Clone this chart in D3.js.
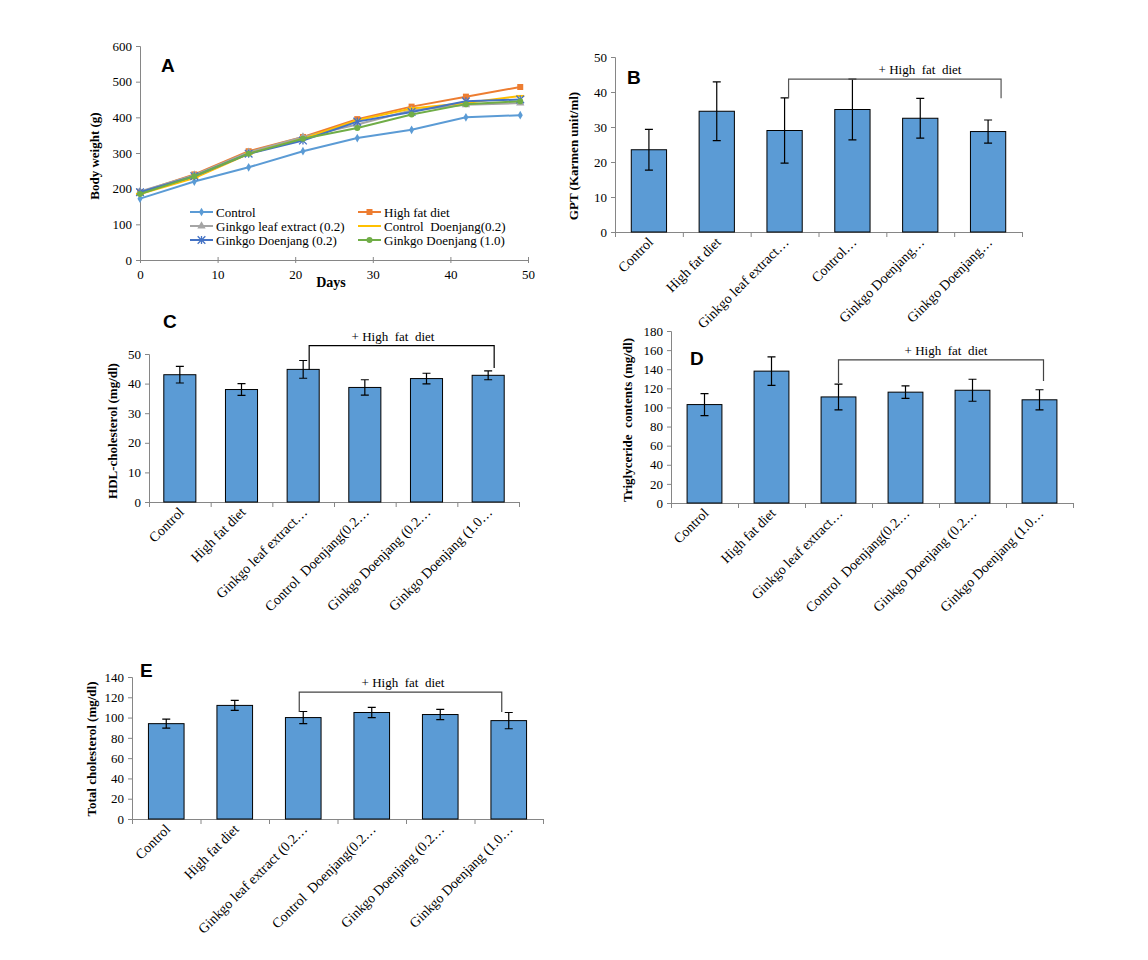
<!DOCTYPE html>
<html><head><meta charset="utf-8">
<script src="https://cdn.jsdelivr.net/npm/d3@7"></script>
<style>
body{margin:0;background:#fff;}
svg{display:block;}
</style></head>
<body>
<svg id="c" width="1148" height="960" font-family="Liberation Serif"></svg>
<script>
// ---------- DATA ----------
const days = [0, 7, 14, 21, 28, 35, 42, 49];
const seriesNames = ["Control", "High fat diet", "Ginkgo leaf extract (0.2)", "Control  Doenjang(0.2)", "Ginkgo Doenjang (0.2)", "Ginkgo Doenjang (1.0)"];
const bwControl = [172, 220, 260, 305, 342, 365, 400, 406];
const bwHighFat = [190, 240, 305, 345, 395, 430, 458, 485];
const bwGinkgoLeaf = [192, 238, 302, 345, 380, 420, 435, 440];
const bwControlDoenjang = [185, 230, 298, 340, 392, 425, 440, 460];
const bwGinkgoDoenjang02 = [190, 235, 298, 335, 388, 415, 445, 450];
const bwGinkgoDoenjang10 = [185, 235, 298, 340, 370, 408, 437, 445];
const weightTicks = [0, 100, 200, 300, 400, 500, 600];
const dayTicks = [0, 10, 20, 30, 40, 50];

const catsB = ["Control", "High fat diet", "Ginkgo leaf extract…", "Control…", "Ginkgo Doenjang…", "Ginkgo Doenjang…"];
const catsCD = ["Control", "High fat diet", "Ginkgo leaf extract…", "Control  Doenjang(0.2…", "Ginkgo Doenjang (0.2…", "Ginkgo Doenjang (1.0…"];
const catsE = ["Control", "High fat diet", "Ginkgo leaf extract (0.2…", "Control  Doenjang(0.2…", "Ginkgo Doenjang (0.2…", "Ginkgo Doenjang (1.0…"];

const gptValues = [23.5, 34.5, 29.0, 35.0, 32.5, 28.7];
const gptErrors = [5.8, 8.4, 9.3, 8.7, 5.7, 3.3];
const gptTicks = [0, 10, 20, 30, 40, 50];

const hdlValues = [43.0, 38.0, 44.8, 38.7, 41.7, 42.8];
const hdlErrors = [2.8, 2.0, 3.0, 2.6, 1.8, 1.5];
const hdlTicks = [0, 10, 20, 30, 40, 50];

const tgValues = [103, 138, 111, 116, 118, 108];
const tgErrors = [11.5, 15, 13.5, 6.5, 11.5, 10.5];
const tgTicks = [0, 20, 40, 60, 80, 100, 120, 140, 160, 180];

const tcValues = [94, 112, 100, 105, 103, 97];
const tcErrors = [4.5, 5, 6, 5, 5, 8];
const tcTicks = [0, 20, 40, 60, 80, 100, 120, 140];

const bracketLabel = "+ High  fat  diet";

// ---------- DRAW ----------
const SERIF = "Liberation Serif";
const SANS = "Liberation Sans";
const svg = d3.select("#c");
const axisColor = "#868686";
const barColor = "#5B9BD5";

function txt(parent, size){
  return parent.append("text").attr("font-family", SERIF).attr("font-size", size).attr("fill", "#000");
}
function styleAxis(g){
  g.attr("font-family", SERIF);
  g.selectAll("path.domain").attr("stroke", axisColor).attr("stroke-width", 1);
  g.selectAll(".tick line").attr("stroke", axisColor);
  g.selectAll(".tick text").attr("font-family", SERIF).attr("font-size", 13).attr("fill", "#000");
}

// ----- Panel A -----
(function(){
  const x = d3.scaleLinear().domain([0, 50]).range([140, 528]);
  const y = d3.scaleLinear().domain([0, 600]).range([260, 46]);
  const g = svg.append("g");
  const ya = g.append("g").attr("transform", `translate(${x(0)},0)`)
    .call(d3.axisLeft(y).tickValues(weightTicks).tickSize(4).tickPadding(4));
  styleAxis(ya);
  const xa = g.append("g").attr("transform", `translate(0,${y(0)})`)
    .call(d3.axisBottom(x).tickValues(dayTicks).tickSize(3).tickPadding(7));
  styleAxis(xa);
  xa.selectAll(".tick line").attr("y1", -3);

  const series = [
    {name: seriesNames[0], vals: bwControl, color: "#5B9BD5", marker: "diamond"},
    {name: seriesNames[1], vals: bwHighFat, color: "#ED7D31", marker: "square"},
    {name: seriesNames[2], vals: bwGinkgoLeaf, color: "#A5A5A5", marker: "triangle"},
    {name: seriesNames[3], vals: bwControlDoenjang, color: "#FFC000", marker: "dash"},
    {name: seriesNames[4], vals: bwGinkgoDoenjang02, color: "#4472C4", marker: "star"},
    {name: seriesNames[5], vals: bwGinkgoDoenjang10, color: "#70AD47", marker: "circle"}
  ];
  const line = d3.line().x((d,i)=>x(days[i])).y(d=>y(d));
  function drawMarker(sel, type, color){
    if(type==="diamond") sel.append("path").attr("d", d3.symbol(d3.symbolDiamond, 22)()).attr("fill", color);
    else if(type==="square") sel.append("path").attr("d", d3.symbol(d3.symbolSquare, 36)()).attr("fill", color);
    else if(type==="triangle") sel.append("path").attr("d", d3.symbol(d3.symbolTriangle, 30)()).attr("fill", color);
    else if(type==="dash") sel.append("path").attr("d", "M-4,0H4").attr("stroke", color).attr("stroke-width", 2);
    else if(type==="star") sel.append("path").attr("d", d3.symbol(d3.symbolX, 40)()).attr("fill", "none").attr("stroke", color).attr("stroke-width", 1.3)
      .call(s=>s.clone().attr("d","M0,-4V4"));
    else if(type==="circle") sel.append("circle").attr("r", 3).attr("fill", color);
  }
  series.forEach(s=>{
    g.append("path").datum(s.vals).attr("d", line).attr("fill","none").attr("stroke", s.color).attr("stroke-width", 2);
    s.vals.forEach((v,i)=>{
      const m = g.append("g").attr("transform", `translate(${x(days[i])},${y(v)})`);
      drawMarker(m, s.marker, s.color);
    });
  });
  // legend
  const legX = [190, 358], legY = [212, 226, 240];
  series.forEach((s,i)=>{
    const lx = legX[i%2], ly = legY[Math.floor(i/2)];
    const lg = g.append("g").attr("transform", `translate(${lx},${ly})`);
    lg.append("line").attr("x1",0).attr("x2",23).attr("stroke", s.color).attr("stroke-width", 2);
    const m = lg.append("g").attr("transform","translate(11.5,0)");
    drawMarker(m, s.marker, s.color);
    txt(lg, 13).attr("x", 26).attr("y", 4.5).style("white-space","pre").text(s.name);
  });
  g.append("text").attr("font-family", SANS).attr("font-weight","bold").attr("x", 161).attr("y", 72).attr("font-size", 19).text("A");
  txt(g, 13).attr("transform","translate(99,156) rotate(-90)").attr("text-anchor","middle")
    .attr("font-weight","bold").text("Body weight (g)");
  txt(g, 14).attr("x", 331).attr("y", 287).attr("text-anchor","middle")
    .attr("font-weight","bold").text("Days");
})();

// ----- Bar panels -----
function barPanel(cfg){
  const g = svg.append("g");
  const x = d3.scaleBand().domain(d3.range(cfg.cats.length)).range(cfg.xr).paddingInner(0.48).paddingOuter(0.24);
  const y = d3.scaleLinear().domain([0, cfg.ticks[cfg.ticks.length-1]]).range(cfg.yr);
  const ya = g.append("g").attr("transform", `translate(${cfg.xr[0]},0)`)
    .call(d3.axisLeft(y).tickValues(cfg.ticks).tickSize(4).tickPadding(4));
  styleAxis(ya);
  const xb = d3.scaleLinear().domain([0, cfg.cats.length]).range(cfg.xr);
  const xa = g.append("g").attr("transform", `translate(0,${cfg.yr[0]})`)
    .call(d3.axisBottom(xb).tickValues(d3.range(cfg.cats.length+1)).tickSize(5).tickFormat(""));
  styleAxis(xa);
  // bars
  g.selectAll("rect.bar").data(cfg.values).join("rect")
    .attr("x",(d,i)=>x(i)).attr("width", x.bandwidth())
    .attr("y", d=>y(d)).attr("height", d=>y(0)-y(d))
    .attr("fill", barColor).attr("stroke","#000").attr("stroke-width",1);
  // error bars
  cfg.values.forEach((v,i)=>{
    const cx = x(i)+x.bandwidth()/2, e = cfg.errors[i];
    g.append("path").attr("d", `M${cx},${y(v-e)}V${y(v+e)}M${cx-4},${y(v-e)}H${cx+4}M${cx-4},${y(v+e)}H${cx+4}`)
      .attr("stroke","#000").attr("stroke-width",1.2).attr("fill","none");
  });
  // category labels
  cfg.cats.forEach((c,i)=>{
    const cx = x(i)+x.bandwidth()/2;
    txt(g, 14).attr("transform", `translate(${cx+5},${cfg.yr[0]+11}) rotate(-45)`)
      .attr("text-anchor","end").style("white-space","pre").text(c);
  });
  // bracket
  const b = cfg.bracket;
  const lx = x(2)+x.bandwidth()/2 + b.dl, rx = x(5)+x.bandwidth()/2 + b.dr;
  g.append("path").attr("d", `M${lx},${y(b.leftEnd)}V${y(b.top)}H${rx}V${y(b.rightEnd)}`)
    .attr("fill","none").attr("stroke", b.color).attr("stroke-width",1.2);
  txt(g, 13).attr("x", b.tx).attr("y", y(b.top)-5).attr("text-anchor","middle")
    .style("white-space","pre").text(bracketLabel);
  // panel letter & y title
  g.append("text").attr("font-family", SANS).attr("font-weight","bold").attr("x", cfg.letter[0]).attr("y", cfg.letter[1]).attr("font-size", 19).text(cfg.letter[2]);
  txt(g, 13).attr("transform", `translate(${cfg.ytitle[0]},${cfg.ytitle[1]}) rotate(-90)`).attr("text-anchor","middle")
    .attr("font-weight","bold").style("white-space","pre").text(cfg.ytitle[2]);
}

barPanel({cats: catsB, values: gptValues, errors: gptErrors, ticks: gptTicks,
  xr: [615, 1022], yr: [232, 57],
  bracket: {top: 43.7, leftEnd: 38.2, rightEnd: 38.2, dl: 4, dr: 13, tx: 920, color: "#555"},
  letter: [627, 84, "B"], ytitle: [578, 156, "GPT (Karmen unit/ml)"]});

barPanel({cats: catsCD, values: hdlValues, errors: hdlErrors, ticks: hdlTicks,
  xr: [149, 519], yr: [502, 354],
  bracket: {top: 52.8, leftEnd: 44.7, rightEnd: 45.3, dl: 6, dr: 6, tx: 393, color: "#000"},
  letter: [163, 328, "C"], ytitle: [117, 431, "HDL-cholesterol (mg/dl)"]});

barPanel({cats: catsCD, values: tgValues, errors: tgErrors, ticks: tgTicks,
  xr: [671, 1073], yr: [503, 331],
  bracket: {top: 149.7, leftEnd: 125.7, rightEnd: 127.8, dl: 0, dr: 4, tx: 946, color: "#444"},
  letter: [690, 365, "D"], ytitle: [632, 420, "Triglyceride  contents (mg/dl)"]});

barPanel({cats: catsE, values: tcValues, errors: tcErrors, ticks: tcTicks,
  xr: [132, 543], yr: [819, 677],
  bracket: {top: 125, leftEnd: 105.6, rightEnd: 105.6, dl: -4, dr: -7, tx: 403, color: "#444"},
  letter: [140, 677, "E"], ytitle: [96, 749, "Total cholesterol (mg/dl)"]});
</script>
</body></html>
